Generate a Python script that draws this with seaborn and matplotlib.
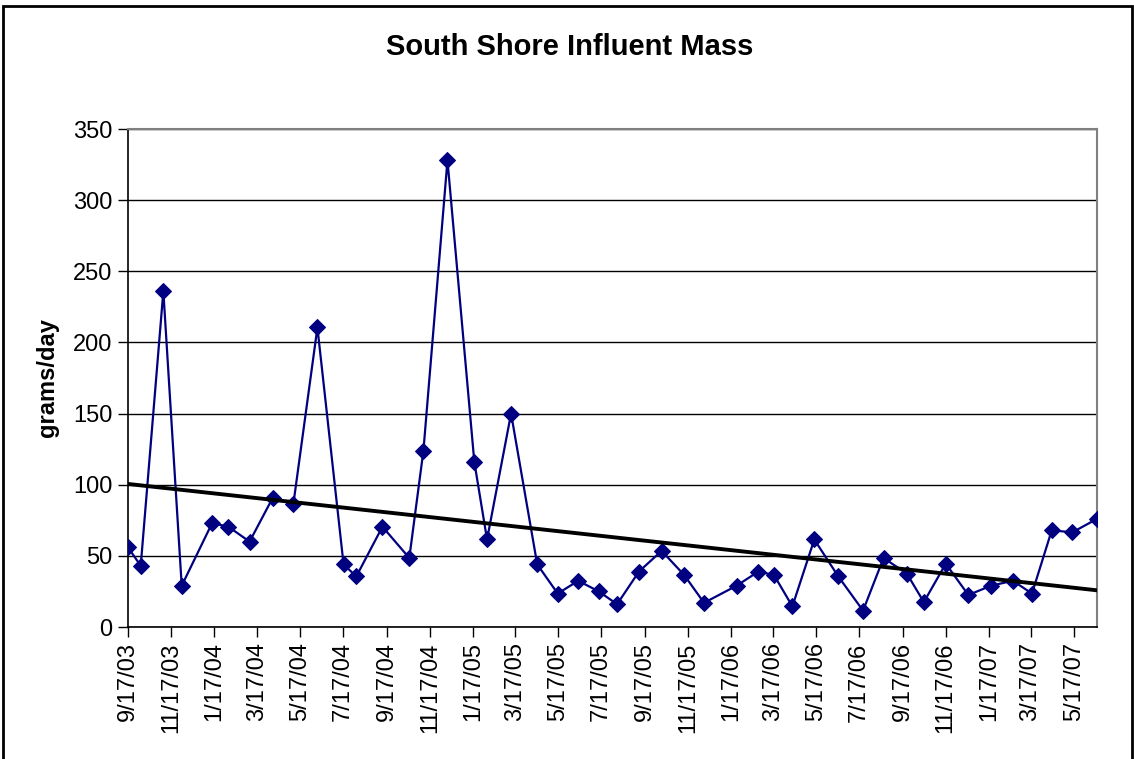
import numpy as np
import pandas as pd
import matplotlib
matplotlib.use("Agg")
import matplotlib.pyplot as plt
import matplotlib.dates as mdates
from matplotlib.patches import Rectangle
import seaborn as sns

# sample dates and influent mass (grams/day)
dates = ["2003-09-17", "2003-10-05", "2003-11-06", "2003-12-02", "2004-01-14",
         "2004-02-06", "2004-03-07", "2004-04-09", "2004-05-08", "2004-06-11",
         "2004-07-18", "2004-08-05", "2004-09-11", "2004-10-19", "2004-11-08",
         "2004-12-12", "2005-01-19", "2005-02-06", "2005-03-12", "2005-04-18",
         "2005-05-17", "2005-06-15", "2005-07-14", "2005-08-09", "2005-09-09",
         "2005-10-11", "2005-11-12", "2005-12-10", "2006-01-25", "2006-02-25",
         "2006-03-19", "2006-04-14", "2006-05-15", "2006-06-18", "2006-07-23",
         "2006-08-21", "2006-09-23", "2006-10-17", "2006-11-17", "2006-12-19",
         "2007-01-20", "2007-02-20", "2007-03-19", "2007-04-16", "2007-05-15",
         "2007-06-19"]
mass = [56, 43, 236, 29, 73, 70.5, 60, 91, 86.5, 210.5,
        44, 35.5, 70.5, 48.5, 124, 328, 116, 61.5, 150, 44,
        23.5, 32.5, 25, 16, 39, 53.5, 36.5, 17, 29, 39,
        36.5, 14.5, 61.5, 35.5, 11.5, 48.5, 37.5, 17.5, 44.5, 22.5,
        29, 32.5, 23.5, 68, 66.5, 76]

df = pd.DataFrame({"date": pd.to_datetime(dates), "mass": mass})

# linear trend line
xnum = mdates.date2num(df["date"])
slope, icept = np.polyfit(xnum, df["mass"], 1)
trend_x = df["date"].iloc[[0, -1]]
trend_y = slope * mdates.date2num(trend_x) + icept

sns.set_style("white")
plt.rcParams['font.family'] = ['Liberation Sans', 'DejaVu Sans']
plt.rcParams['text.color'] = 'black'
plt.rcParams['axes.labelcolor'] = 'black'
plt.rcParams['xtick.color'] = 'black'
plt.rcParams['ytick.color'] = 'black'

fig = plt.figure(figsize=(11.34, 7.59), dpi=100)
ax = fig.add_axes([128/1134, 1 - 627/759, (1097-128)/1134, (627-129)/759])

ax.set_ylim(0, 350)
ax.set_yticks(range(0, 351, 50))
ax.grid(axis="y", color="black", linewidth=1)
ax.set_axisbelow(True)

sns.lineplot(x="date", y="mass", data=df, ax=ax, color="#000080", linewidth=1.6,
             marker="D", markersize=8, markeredgecolor="#000080", zorder=3)
ax.plot(trend_x, trend_y, color="black", linewidth=2.8, zorder=4)

ax.set_xlim(df["date"].iloc[0], df["date"].iloc[-1])
ax.xaxis.set_major_locator(mdates.MonthLocator(bymonth=[1, 3, 5, 7, 9, 11], bymonthday=17))
ax.xaxis.set_major_formatter(mdates.DateFormatter("%-m/%d/%y"))
plt.setp(ax.get_xticklabels(), rotation=90)

ax.tick_params(axis="both", direction="out", length=7, width=1, labelsize=17,
               color="black", labelcolor="black", bottom=True, left=True, pad=4)
for side in ["left", "bottom"]:
    ax.spines[side].set_color("black")
    ax.spines[side].set_linewidth(1.2)
for side in ["top", "right"]:
    ax.spines[side].set_color("#808080")
    ax.spines[side].set_linewidth(1.5)

ax.set_xlabel("")
ax.set_ylabel("grams/day", fontsize=17, fontweight="bold", labelpad=10, color="black")
fig.text(570/1134, 1 - 47/759, "South Shore Influent Mass", ha="center", va="center",
         fontsize=21, fontweight="bold", color="black")

# chart area border
fig.patches.append(Rectangle((3/1134, -0.01), 1129/1134, 1 - 6/759 + 0.01,
                             transform=fig.transFigure, fill=False,
                             edgecolor="black", linewidth=2))

fig.savefig("out.png", dpi=100)
